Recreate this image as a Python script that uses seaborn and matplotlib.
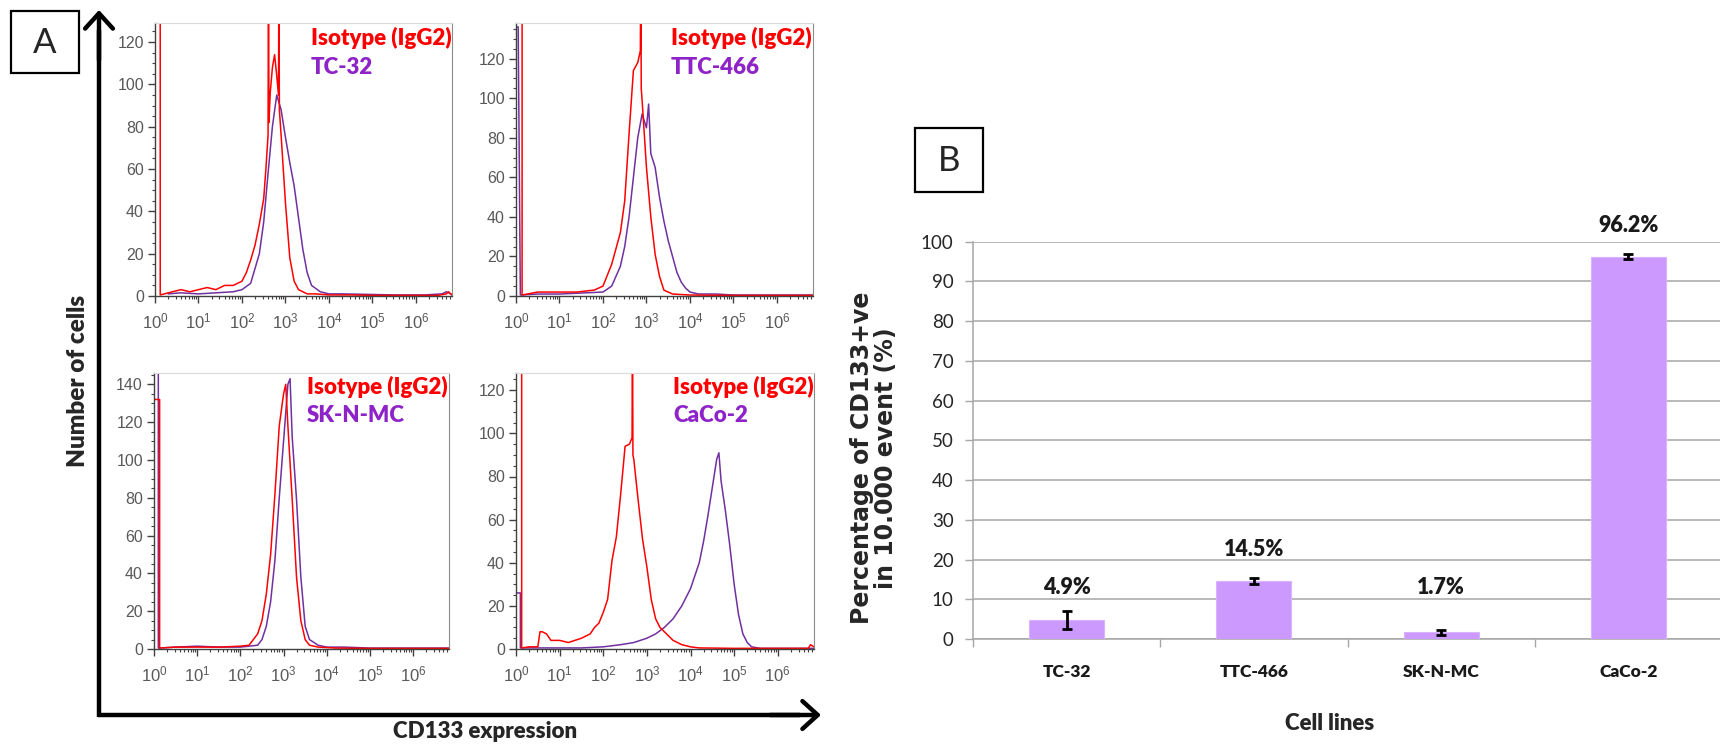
import numpy as np
import matplotlib
matplotlib.use("Agg")
import matplotlib.pyplot as plt
import seaborn as sns
from matplotlib.patches import Rectangle
from matplotlib.ticker import FixedLocator, MultipleLocator, LogLocator, NullFormatter

# ---------------- data ----------------
# Panel A: flow-cytometry histograms (log10 CD133 intensity, number of cells)
tc32_iso_lx = [0, 0.12, 0.12, 0.4, 0.6, 0.8, 1.0, 1.2, 1.4, 1.6, 1.8, 2.0, 2.1, 2.2, 2.3, 2.4, 2.5, 2.55, 2.6,
               2.61, 2.62, 2.65, 2.7, 2.75, 2.8, 2.84, 2.85, 2.86, 2.9, 3.0, 3.1, 3.2, 3.3, 3.4, 3.5, 3.7,
               4.0, 4.5, 5.0, 5.5, 6.0, 6.5, 6.7, 6.75, 6.8, 6.83]
tc32_iso_n = [160, 160, 0.5, 2, 3, 2, 3, 4, 3, 5, 5, 7, 11, 17, 24, 34, 46, 60, 76,
              160, 82, 96, 108, 114, 104, 95, 160, 88, 76, 44, 18, 7, 3, 2, 1, 1,
              0.5, 0.5, 0.3, 0.3, 0.3, 0.3, 1, 2, 1, 0.5]
tc32_lx = [0.3, 0.6, 1.0, 1.4, 1.8, 2.0, 2.2, 2.4, 2.5, 2.6, 2.7, 2.8, 2.9, 3.0, 3.1, 3.2, 3.3, 3.4, 3.5,
           3.6, 3.8, 4.0, 4.3, 4.8, 5.5, 6.2, 6.6, 6.7, 6.8, 6.83]
tc32_n = [1, 1.5, 1, 1.5, 2, 3, 6, 20, 35, 58, 80, 95, 88, 75, 63, 52, 37, 22, 11,
          5, 2, 1, 1, 0.8, 0.5, 0.5, 1, 2, 1, 0.5]

ttc466_iso_lx = [0, 0.14, 0.14, 0.5, 1.0, 1.4, 1.8, 2.0, 2.2, 2.4, 2.5, 2.6, 2.7, 2.8, 2.86, 2.87, 2.88, 2.9,
                 3.0, 3.1, 3.2, 3.3, 3.4, 3.6, 4.0, 5.0, 6.0, 6.83]
ttc466_iso_n = [170, 170, 0.5, 2, 2, 2, 3, 5, 16, 32, 48, 82, 114, 118, 124, 170, 105, 99,
                65, 40, 21, 10, 3, 1, 0.5, 0.3, 0.3, 0.3]
ttc466_lx = [0, 0.05, 0.1, 0.5, 1.0, 1.5, 2.0, 2.2, 2.4, 2.5, 2.6, 2.7, 2.8, 2.9, 3.0, 3.05, 3.1, 3.2, 3.3,
             3.4, 3.5, 3.6, 3.7, 3.8, 3.9, 4.0, 4.2, 4.6, 5.0, 5.5, 6.0, 6.83]
ttc466_n = [136, 136, 0.5, 1, 1, 1.5, 2, 5, 15, 25, 40, 60, 80, 92, 85, 97, 72, 65, 50,
            38, 28, 20, 12, 7, 4, 2, 1, 1, 0.5, 0.5, 0.5, 0.5]

sknmc_iso_lx = [0, 0.13, 0.13, 0.5, 1.0, 1.5, 2.0, 2.2, 2.4, 2.5, 2.6, 2.7, 2.8, 2.9, 3.0, 3.05, 3.1, 3.2,
                3.3, 3.4, 3.5, 3.6, 3.8, 4.2, 5.0, 6.0, 6.83]
sknmc_iso_n = [132, 132, 0.5, 1, 1, 1, 1.5, 2, 8, 15, 29, 50, 82, 118, 135, 140, 118, 79,
               38, 15, 5, 2, 1, 0.5, 0.3, 0.3, 0.3]
sknmc_lx = [0, 0.1, 0.1, 0.5, 1.0, 1.5, 2.0, 2.4, 2.5, 2.6, 2.7, 2.8, 2.9, 3.0, 3.1, 3.15, 3.2, 3.3, 3.4,
            3.5, 3.6, 3.8, 4.0, 4.4, 5.0, 6.0, 6.83]
sknmc_n = [160, 160, 0.5, 1, 1.5, 1, 1, 2, 5, 12, 25, 47, 80, 110, 140, 143, 112, 79, 38,
           12, 5, 2, 1, 1, 0.5, 0.5, 0.5]

caco2_iso_lx = [0, 0.13, 0.13, 0.3, 0.5, 0.55, 0.6, 0.7, 0.8, 1.0, 1.2, 1.5, 1.7, 1.8, 1.9, 2.0, 2.1, 2.2,
                2.3, 2.4, 2.5, 2.6, 2.66, 2.67, 2.68, 2.7, 2.8, 2.9, 3.0, 3.1, 3.2, 3.3, 3.4, 3.5, 3.6,
                3.8, 4.0, 4.2, 5.0, 6.0, 6.7, 6.75, 6.83]
caco2_iso_n = [150, 150, 0.5, 1, 1, 8, 8, 7, 4, 4, 3, 5, 7, 10, 12, 17, 23, 41,
               52, 72, 94, 95, 98, 150, 90, 88, 69, 51, 38, 23, 14, 10, 8, 6, 4,
               2, 1, 0.5, 0.3, 0.3, 0.3, 2, 1]
caco2_lx = [0, 0.1, 0.1, 0.5, 1.0, 1.5, 2.0, 2.4, 2.7, 3.0, 3.2, 3.4, 3.6, 3.8, 4.0, 4.2, 4.3, 4.4, 4.5,
            4.6, 4.65, 4.7, 4.8, 4.9, 5.0, 5.1, 5.2, 5.3, 5.4, 5.6, 6.0, 6.83]
caco2_n = [26, 26, 0.5, 0.5, 0.5, 0.5, 1, 2, 3, 5, 7, 10, 14, 20, 28, 40, 50, 62, 75,
           88, 91, 78, 64, 48, 30, 16, 7, 3, 1, 0.3, 0.3, 0.3]

hist_names = ["TC-32", "TTC-466", "SK-N-MC", "CaCo-2"]
hist_ymax = [129, 138, 146, 128]
isotype_label = "Isotype (IgG2)"

# Panel B: bar chart
cell_lines = ["TC-32", "TTC-466", "SK-N-MC", "CaCo-2"]
pct_positive = [4.8, 14.5, 1.7, 96.2]
pct_error = [2.2, 0.75, 0.65, 0.6]
pct_labels = ["4.9%", "14.5%", "1.7%", "96.2%"]
bar_yticks = list(range(0, 101, 10))

# ---------------- style ----------------
sns.set_style("white")
plt.rcParams["font.family"] = ["Liberation Sans", "DejaVu Sans"]
plt.rcParams["mathtext.fontset"] = "custom"
plt.rcParams["mathtext.rm"] = "Liberation Sans"
plt.rcParams["mathtext.it"] = "Liberation Sans"

W, H = 1720, 744
fig = plt.figure(figsize=(W / 100, H / 100), dpi=100)
CAL = ["Lato", "DejaVu Sans"]
BOLD = "heavy"


def rect(l, t, r, b):
    return [l / W, 1 - b / H, (r - l) / W, (b - t) / H]


RED = "#ff0000"
PURPLE = "#7030a0"
PTEXT = "#8e24c8"
TICKC = "#595959"

panels = [
    (rect(155, 23, 452, 296), (tc32_iso_lx, tc32_iso_n), (tc32_lx, tc32_n), (311, 38, 67)),
    (rect(516, 23, 813, 296), (ttc466_iso_lx, ttc466_iso_n), (ttc466_lx, ttc466_n), (671, 38, 67)),
    (rect(154, 373, 449, 649), (sknmc_iso_lx, sknmc_iso_n), (sknmc_lx, sknmc_n), (307, 387, 416)),
    (rect(516, 373, 814, 649), (caco2_iso_lx, caco2_iso_n), (caco2_lx, caco2_n), (673, 387, 416)),
]

labels_to_draw = []
for i, (r, iso, samp, tpos) in enumerate(panels):
    ax = fig.add_axes(r)
    ax.set_xscale("log")
    sns.lineplot(x=10 ** np.array(samp[0]), y=samp[1], ax=ax, color=PURPLE, lw=1.1,
                 estimator=None, sort=False)
    sns.lineplot(x=10 ** np.array(iso[0]), y=iso[1], ax=ax, color=RED, lw=1.1,
                 estimator=None, sort=False)
    ax.set_xlim(1, 10 ** 6.83)
    ax.set_ylim(0, hist_ymax[i])
    ax.xaxis.set_major_locator(FixedLocator([10.0 ** k for k in range(7)]))
    ax.xaxis.set_minor_locator(LogLocator(base=10, subs=np.arange(2, 10), numticks=20))
    ax.xaxis.set_minor_formatter(NullFormatter())
    ax.yaxis.set_major_locator(MultipleLocator(20))
    ax.yaxis.set_minor_locator(MultipleLocator(5))
    ax.tick_params(axis="both", which="major", direction="out", length=5, width=1,
                   color="#404040", labelcolor=TICKC, labelsize=11.5, pad=3,
                   bottom=True, left=True)
    ax.tick_params(axis="both", which="minor", direction="out", length=2.5, width=0.8,
                   color="#404040", bottom=True, left=True)
    ax.tick_params(axis="x", which="major", pad=6, labelsize=12)
    for s in ["left", "bottom"]:
        ax.spines[s].set_color("#404040")
        ax.spines[s].set_linewidth(1.0)
    ax.spines["top"].set_color("#d9d9d9")
    ax.spines["right"].set_color("#8c8c8c")
    ax.set_xlabel("")
    ax.set_ylabel("")
    ax.set_facecolor("white")
    labels_to_draw.append((tpos, hist_names[i]))

# ---------------- Panel B ----------------
axb = fig.add_axes(rect(973, 241.7, 1722, 639))
sns.barplot(x=cell_lines, y=pct_positive, ax=axb, color="#cc99ff", saturation=1,
            width=0.4, errorbar=None, edgecolor="#d9b3ff", linewidth=0.8, zorder=3)
axb.errorbar(x=np.arange(len(cell_lines)), y=pct_positive, yerr=pct_error, fmt="none",
             ecolor="black", elinewidth=2, capsize=3.5, capthick=2, zorder=4)
axb.set_ylim(0, 100)
axb.set_xlim(-0.5, 3.5)
axb.set_yticks(bar_yticks)
axb.set_yticklabels([str(v) for v in bar_yticks], family=CAL, fontsize=13.5, color="#262626")
axb.grid(axis="y", color="#a6a6a6", lw=1.1, zorder=0)
axb.grid(axis="x", visible=False)
axb.set_axisbelow(True)
axb.set_xticks(range(len(cell_lines)))
axb.set_xticklabels(cell_lines, family=CAL, fontsize=12.5, fontweight=BOLD, color="#1a1a1a")
axb.set_xticks(np.arange(-0.5, 3.6, 1.0), minor=True)
axb.tick_params(axis="x", which="major", length=0, pad=18)
axb.tick_params(axis="x", which="minor", length=6, width=1, color="#a6a6a6", bottom=True)
axb.tick_params(axis="y", which="major", length=6, width=1, color="#a6a6a6", pad=8, left=True)
for s in ["top", "right"]:
    axb.spines[s].set_visible(False)
for s in ["left", "bottom"]:
    axb.spines[s].set_color("#a6a6a6")
    axb.spines[s].set_linewidth(1.1)
axb.set_xlabel("")
axb.set_ylabel("")
for i, (v, lab) in enumerate(zip(pct_positive, pct_labels)):
    axb.text(i, max(v + 8, 13.0), lab, ha="center", va="center", fontsize=15.5,
             fontweight=BOLD, family=CAL, color="#1a1a1a", clip_on=False)

# ---------------- overlay (pixel coords, drawn on top) ----------------
ov = fig.add_axes([0, 0, 1, 1])
ov.set_zorder(10)
ov.patch.set_visible(False)
ov.set_xlim(0, W)
ov.set_ylim(H, 0)
ov.axis("off")

for (tx, ty1, ty2), name in labels_to_draw:
    ov.text(tx, ty1, isotype_label, color=RED, fontsize=16, fontweight=BOLD,
            family=CAL, ha="left", va="center")
    ov.text(tx, ty2, name, color=PTEXT, fontsize=16, fontweight=BOLD,
            family=CAL, ha="left", va="center")

# Panel A decorations
ov.add_patch(Rectangle((11, 11), 68, 62, fill=False, lw=1.6, edgecolor="black"))
ov.text(45, 43, "A", fontsize=25, family=CAL, ha="center", va="center")
ov.plot([99, 99], [717, 30], color="black", lw=3.2, solid_capstyle="butt")
ov.plot([97.5, 800], [715, 715], color="black", lw=3.2, solid_capstyle="butt")
ov.annotate("", xy=(99, 10), xytext=(99, 60),
            arrowprops=dict(arrowstyle="->,head_length=0.55,head_width=0.5", lw=3.2,
                            color="black", mutation_scale=20, shrinkA=0, shrinkB=0))
ov.annotate("", xy=(821, 715), xytext=(770, 715),
            arrowprops=dict(arrowstyle="->,head_length=0.55,head_width=0.5", lw=3.2,
                            color="black", mutation_scale=20, shrinkA=0, shrinkB=0))
ov.text(78, 381, "Number of cells", rotation=90, fontsize=17.5, fontweight=BOLD,
        family=CAL, ha="center", va="center")
ov.text(485, 731, "CD133 expression", fontsize=16, fontweight=BOLD,
        family=CAL, ha="center", va="center")

ov.add_patch(Rectangle((915, 128), 68, 64, fill=False, lw=1.6, edgecolor="black"))
ov.text(949, 161, "B", fontsize=25, family=CAL, ha="center", va="center")
ov.text(874, 458, "Percentage of CD133+ve\nin 10.000 event (%)", rotation=90, fontsize=17,
        fontweight="bold", family=["DejaVu Sans"], ha="center", va="center",
        linespacing=1.0, multialignment="center")
ov.text(1330, 723, "Cell lines", fontsize=16, fontweight=BOLD,
        family=CAL, ha="center", va="center")

fig.savefig("out.png", dpi=100)
